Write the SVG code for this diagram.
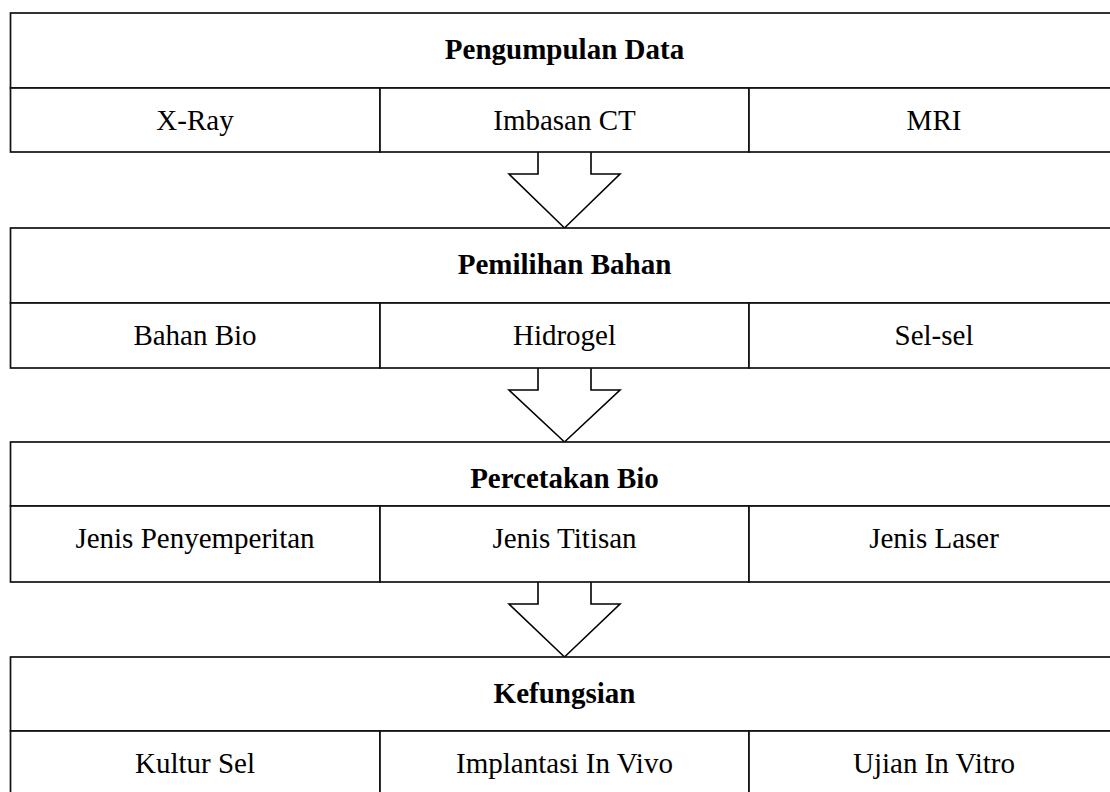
<svg xmlns="http://www.w3.org/2000/svg" width="1110" height="792" viewBox="0 0 1110 792">
<style>
.cell{fill:#fff;stroke:#111;stroke-width:1.7}
.hd{font-family:"Liberation Serif","Times New Roman",serif;font-size:29px;font-weight:bold;fill:#000;text-anchor:middle}
.tx{font-family:"Liberation Serif","Times New Roman",serif;font-size:29px;fill:#000;text-anchor:middle}
.arrow{fill:#fff;stroke:#000;stroke-width:1.6;stroke-linejoin:miter}
</style>
<rect width="1110" height="792" fill="#fff"/>
<g id="connectors">
<path class="arrow" d="M538,152 V174 H509 L564.5,228 L620,174 H591 V152"/>
<path class="arrow" d="M538,368 V390 H509 L564.5,442 L620,390 H591 V368"/>
<path class="arrow" d="M538,582 V604 H509 L564.5,657 L620,604 H591 V582"/>
</g>
<g id="pengumpulan-data">
<rect class="cell" x="10.5" y="13" width="1110" height="75"/>
<text class="hd" x="564.5" y="59">Pengumpulan Data</text>
<g id="x-ray"><rect class="cell" x="10.5" y="88" width="369.5" height="64"/><text class="tx" x="195" y="130">X-Ray</text></g>
<g id="imbasan-ct"><rect class="cell" x="380" y="88" width="369" height="64"/><text class="tx" x="564.5" y="130">Imbasan CT</text></g>
<g id="mri"><rect class="cell" x="749" y="88" width="370" height="64"/><text class="tx" x="934" y="130">MRI</text></g>
</g>
<g id="pemilihan-bahan">
<rect class="cell" x="10.5" y="228" width="1110" height="75"/>
<text class="hd" x="564.5" y="274">Pemilihan Bahan</text>
<g id="bahan-bio"><rect class="cell" x="10.5" y="303" width="369.5" height="65"/><text class="tx" x="195" y="345">Bahan Bio</text></g>
<g id="hidrogel"><rect class="cell" x="380" y="303" width="369" height="65"/><text class="tx" x="564.5" y="345">Hidrogel</text></g>
<g id="sel-sel"><rect class="cell" x="749" y="303" width="370" height="65"/><text class="tx" x="934" y="345">Sel-sel</text></g>
</g>
<g id="percetakan-bio">
<rect class="cell" x="10.5" y="442" width="1110" height="64"/>
<text class="hd" x="564.5" y="488">Percetakan Bio</text>
<g id="jenis-penyemperitan"><rect class="cell" x="10.5" y="506" width="369.5" height="76"/><text class="tx" x="195" y="548">Jenis Penyemperitan</text></g>
<g id="jenis-titisan"><rect class="cell" x="380" y="506" width="369" height="76"/><text class="tx" x="564.5" y="548">Jenis Titisan</text></g>
<g id="jenis-laser"><rect class="cell" x="749" y="506" width="370" height="76"/><text class="tx" x="934" y="548">Jenis Laser</text></g>
</g>
<g id="kefungsian">
<rect class="cell" x="10.5" y="657" width="1110" height="74"/>
<text class="hd" x="564.5" y="703">Kefungsian</text>
<g id="kultur-sel"><rect class="cell" x="10.5" y="731" width="369.5" height="70"/><text class="tx" x="195" y="773">Kultur Sel</text></g>
<g id="implantasi-in-vivo"><rect class="cell" x="380" y="731" width="369" height="70"/><text class="tx" x="564.5" y="773">Implantasi In Vivo</text></g>
<g id="ujian-in-vitro"><rect class="cell" x="749" y="731" width="370" height="70"/><text class="tx" x="934" y="773">Ujian In Vitro</text></g>
</g>
</svg>
